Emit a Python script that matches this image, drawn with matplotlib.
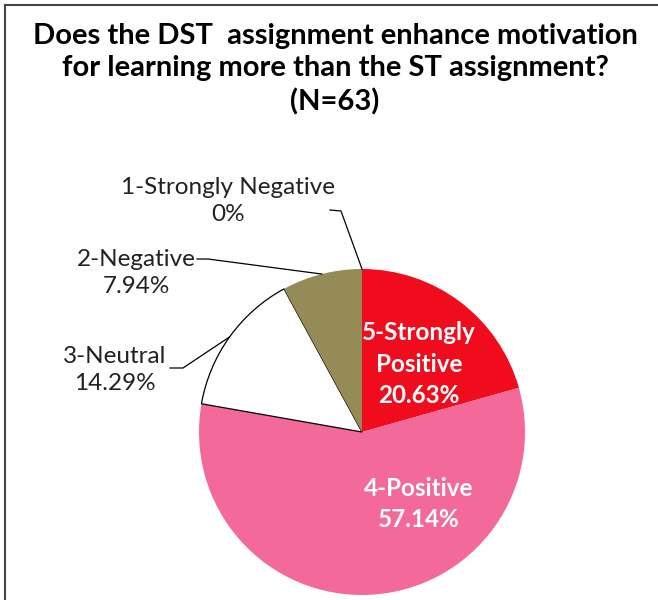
import numpy as np
import matplotlib
matplotlib.use("Agg")
import matplotlib.pyplot as plt
from matplotlib.lines import Line2D

# data
categories = ["5-Strongly\nPositive", "4-Positive", "3-Neutral", "2-Negative", "1-Strongly Negative"]
percents = [20.63, 57.14, 14.29, 7.94, 0.0]
pct_labels = ["20.63%", "57.14%", "14.29%", "7.94%", "0%"]
colors = ["#F00C1C", "#F3699A", "#FFFFFF", "#958B56", "#FFFFFF"]
title = "Does the DST  assignment enhance motivation\nfor learning more than the ST assignment?\n(N=63)"

plt.rcParams['font.family'] = ['Lato', 'DejaVu Sans']

fig = plt.figure(figsize=(6.58, 6.0), dpi=100)
ax = fig.add_axes([0, 0, 1, 1])

cx, cy, r = 362, 168, 163
wedges, _ = ax.pie(percents, colors=colors, startangle=90, counterclock=False,
                   center=(cx, cy), radius=r, frame=True,
                   wedgeprops=dict(linewidth=0))
ax.set_xlim(0, 658)
ax.set_ylim(0, 600)
ax.set_aspect("equal")
ax.axis("off")
# outline only the white slice
wedges[2].set_edgecolor("black")
wedges[2].set_linewidth(0.9)

# inside labels
ax.text(419, 600 - 364, categories[0] + "\n" + pct_labels[0], color="white",
        fontsize=17.5, fontweight="bold", ha="center", va="center", linespacing=1.45)
ax.text(419, 600 - 504, categories[1] + "\n" + pct_labels[1], color="white",
        fontsize=17.5, fontweight="bold", ha="center", va="center", linespacing=1.45)

# outside labels with leader lines
def edge_point(i):
    w = wedges[i]
    a = np.deg2rad((w.theta1 + w.theta2) / 2)
    return cx + r * np.cos(a), cy + r * np.sin(a)

outside = [
    (2, (115, 600 - 370), [(170, 600 - 368), (183, 600 - 368)]),
    (3, (136, 600 - 273), [(197, 600 - 259), (208, 600 - 259)]),
    (4, (228, 600 - 201), [(330, 600 - 210), (341, 600 - 211)]),
]
for i, (tx, ty), pts in outside:
    ax.text(tx, ty, categories[i] + "\n" + pct_labels[i], fontsize=17.5,
            ha="center", va="center", color="#222222", linespacing=1.3)
    ex, ey = edge_point(i)
    xs = [p[0] for p in pts] + [ex]
    ys = [p[1] for p in pts] + [ey]
    ax.plot(xs, ys, color="black", lw=0.9)

fig.text(335 / 658, 1 - 69 / 600, title, fontsize=21, fontweight="bold",
         ha="center", va="center", linespacing=1.3)

# outer frame
fig.add_artist(Line2D([5 / 658, 5 / 658], [0, 1 - 5 / 600], transform=fig.transFigure,
                      color="#444444", lw=1.5))
fig.add_artist(Line2D([5 / 658, 1], [1 - 5 / 600, 1 - 5 / 600], transform=fig.transFigure,
                      color="#444444", lw=1.5))

fig.savefig("out.png", dpi=100)
